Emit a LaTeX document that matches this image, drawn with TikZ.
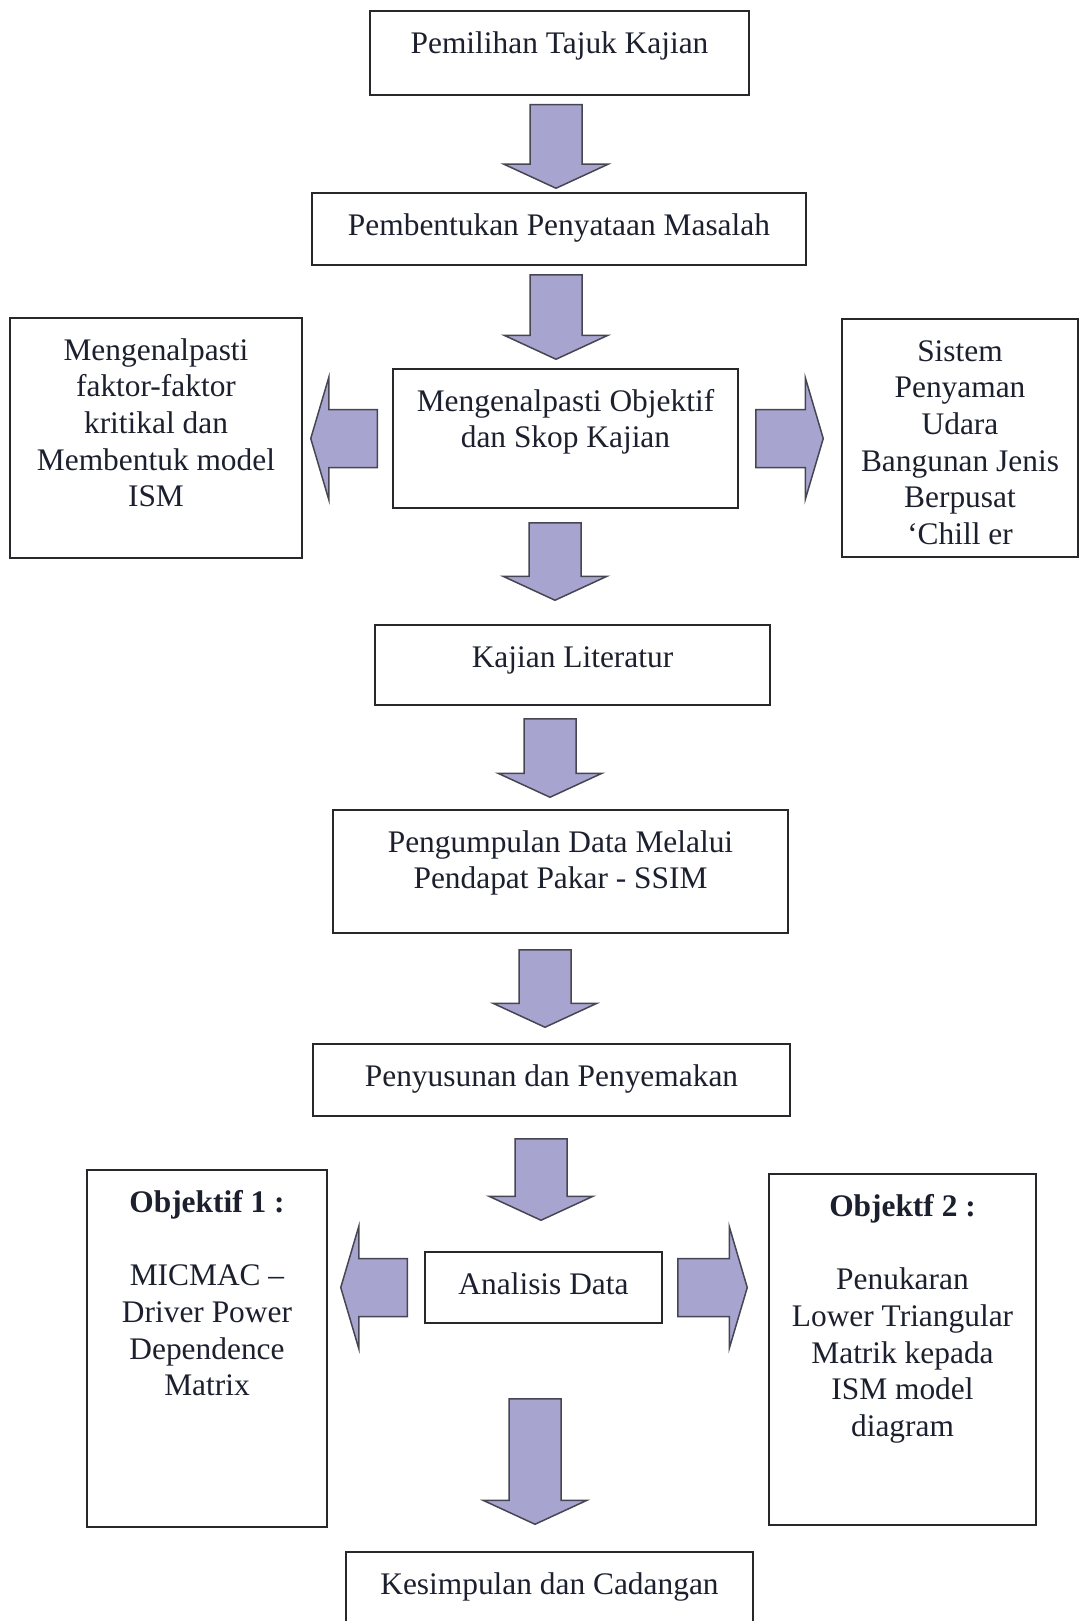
\documentclass[tikz,border=0pt]{standalone}
\usepackage{fontspec}
\setmainfont{Liberation Serif}
\usepackage{tikz}
\usetikzlibrary{calc}
\definecolor{arrowfill}{RGB}{168,164,208}
\definecolor{arrowline}{RGB}{70,70,82}
\definecolor{boxline}{RGB}{40,40,44}
\definecolor{textcol}{RGB}{28,32,46}
\newcommand{\stagefont}{\fontsize{31.4}{36.7}\selectfont}
% box text: width, height, lines (top aligned)
\newcommand{\stagetext}[3]{\parbox[c][#2pt][t]{#1pt}{\centering\vspace*{16.5pt}\strut#3}}
% block arrow downwards: x, upper node, lower node, gap below upper, gap above lower
\newcommand{\blkdown}[5]{%
  \coordinate (tail) at ($(#2.south -| #1,0)+(0,#4)$);
  \coordinate (tip) at ($(#3.north -| #1,0)+(0,-#5)$);
  \draw[blk] let \p1=(tail), \p2=(tip) in
    ({\x1-26pt},\y1) -- ({\x1+26pt},\y1) -- ({\x1+26pt},{\y2+24pt}) -- ({\x1+52pt},{\y2+24pt})
    -- (\x1,\y2) -- ({\x1-52pt},{\y2+24pt}) -- ({\x1-26pt},{\y2+24pt}) -- cycle;}
% block arrow sideways: tail, tip, direction (1 right, -1 left)
\newcommand{\blkside}[3]{%
  \draw[blk] let \p1=(#1), \p2=(#2) in
    (\x1,{\y1+29pt}) -- ({\x2-(#3)*18pt},{\y1+29pt}) -- ({\x2-(#3)*18pt},{\y1+61pt}) -- (\x2,\y1)
    -- ({\x2-(#3)*18pt},{\y1-61pt}) -- ({\x2-(#3)*18pt},{\y1-29pt}) -- (\x1,{\y1-29pt}) -- cycle;}

\begin{document}
\begin{tikzpicture}[x=1pt, y=-1pt]
		\tikzset{stage/.style={draw=boxline, line width=1.5pt, inner sep=0pt, text=textcol, font=\stagefont}}
		\tikzset{blk/.style={fill=arrowfill, draw=arrowline, line width=1.5pt, line join=miter}}
		\useasboundingbox (0,0) rectangle (1081,1621);

		\node[stage] (tajuk) at (559.5,53) {\stagetext{379}{84}{Pemilihan Tajuk Kajian}};
		\node[stage] (masalah) at (559,229) {\stagetext{494}{72}{Pembentukan Penyataan Masalah}};
		\node[stage] (objektif) at (565.5,438.5) {\stagetext{345}{139}{Mengenalpasti Objektif\\dan Skop Kajian}};
		\node[stage] (faktor) at (156,438) {\stagetext{292}{240}{Mengenalpasti\\faktor-faktor\\kritikal dan\\Membentuk model\\ISM}};
		\node[stage] (sistem) at (960,438) {\stagetext{236}{238}{Sistem\\Penyaman\\Udara\\Bangunan Jenis\\Berpusat\\‘Chill er}};
		\node[stage] (literatur) at (572.5,665) {\stagetext{395}{80}{Kajian Literatur}};
		\node[stage] (pakar) at (560.5,871.5) {\stagetext{455}{123}{Pengumpulan Data Melalui\\Pendapat Pakar - SSIM}};
		\node[stage] (semakan) at (551.5,1080) {\stagetext{477}{72}{Penyusunan dan Penyemakan}};

		% analisis + objektif
		\node[stage] (analisis) at (543.5,1287.5) {\stagetext{237}{71}{Analisis Data}};
		\node[stage] (micmac) at (207,1348.5) {\stagetext{240}{357}{\textbf{Objektif 1 :}\\[36.7pt]MICMAC –\\Driver Power\\Dependence\\Matrix}};
		\node[stage] (ismdiag) at (902.5,1349.5) {\stagetext{267}{351}{\textbf{Objektf 2 :}\\[36.7pt]Penukaran\\Lower Triangular\\Matrik kepada\\ISM model\\diagram}};
		\node[stage] (kesimpulan) at (549.5,1601) {\stagetext{407}{98}{Kesimpulan dan Cadangan}};

		% anak panah
		\foreach \x/\a/\b/\g/\h in {556/tajuk/masalah/9/4, 556/masalah/objektif/9/9, 555/objektif/literatur/14/24,
			550/literatur/pakar/13/12, 545/pakar/semakan/16/16, 541/semakan/analisis/22/31, 535/analisis/kesimpulan/75/27}
			\blkdown{\x}{\a}{\b}{\g}{\h};

		\coordinate (l1) at ($(objektif.west)+(-15,0)$);
		\coordinate (l1tip) at ($(objektif.west -| faktor.east)+(8,0)$);
		\coordinate (r1) at ($(objektif.east)+(17,0)$);
		\coordinate (r1tip) at ($(objektif.east -| sistem.west)+(-18,0)$);
		\coordinate (l2) at ($(analisis.west)+(-17,0)$);
		\coordinate (l2tip) at ($(analisis.west -| micmac.east)+(13,0)$);
		\coordinate (r2) at ($(analisis.east)+(15,0)$);
		\coordinate (r2tip) at ($(analisis.east -| ismdiag.west)+(-21,0)$);
		\blkside{l1}{l1tip}{-1}
		\blkside{r1}{r1tip}{1}
		\blkside{l2}{l2tip}{-1}
		\blkside{r2}{r2tip}{1}
	\end{tikzpicture}
\end{document}
